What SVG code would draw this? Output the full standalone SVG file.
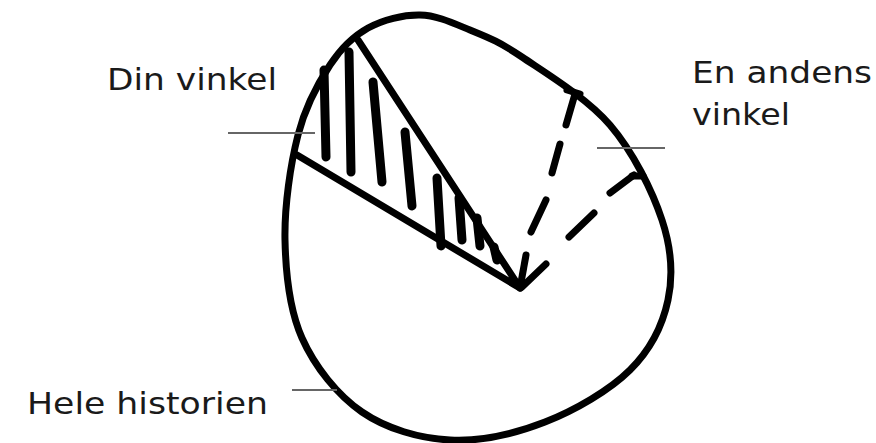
<svg xmlns="http://www.w3.org/2000/svg" width="876" height="443" viewBox="0 0 876 443">
<style>
.lbl{font-family:"DejaVu Sans",Verdana,sans-serif;font-size:31px;fill:#1a1a1a}
.lead{stroke:#666;stroke-width:2;fill:none}
.ink{stroke:#000;fill:none;stroke-linecap:round;stroke-linejoin:round}
</style>
<rect width="876" height="443" fill="#fff"/>
<g id="circle">
<path class="ink" stroke-width="7" d="M420,15 C437,15.3 453,23 470,30 C487,37 498.7,41.2 522,57 C545.3,72.8 586.7,97.8 610,125 C633.3,152.2 652.3,190.8 662,220 C671.7,249.2 673.3,275 668,300 C662.7,325 650.5,349.7 630,370 C609.5,390.3 575,410.3 545,422 C515,433.7 480.5,441.7 450,440 C419.5,438.3 386.7,429 362,412 C337.3,395 314.8,366.7 302,338 C289.2,309.3 285.7,273.8 285,240 C284.3,206.2 290.5,164.2 298,135 C305.5,105.8 318.3,82.8 330,65 C341.7,47.2 353,36.3 368,28 C383,19.7 403,14.7 420,15 Z"/>
</g>
<g id="wedge">
<path class="ink" stroke-width="7" d="M358,40 L520,288 M297,155 L520,288"/>
<g class="ink" stroke-width="9">
<path d="M324,70 L326,157"/>
<path d="M349,52 L351,172"/>
<path d="M373,82 L382,182"/>
<path d="M405,132 L412,206"/>
<path d="M437,178 L441,246"/>
<path d="M459,198 L462,240"/>
<path d="M477,218 L480,246"/>
<path d="M494,247 L497,260"/>
</g>
</g>
<g id="dashes" class="ink" stroke-width="7">
<path d="M520,288 L526,255"/>
<path d="M531,232 L546,200"/>
<path d="M552,173 L560,144"/>
<path d="M566,125 L575,94"/>
<path d="M567,90 L580,94"/>
<path d="M522,287 L546,264"/>
<path d="M569,237 L594,213"/>
<path d="M610,193 L634,175"/>
<path d="M632,176 L643,176"/>
</g>
<g id="labels">
<path class="lead" d="M228,133 L315,133"/>
<text class="lbl" x="107" y="90" textLength="170" lengthAdjust="spacingAndGlyphs">Din vinkel</text>
<path class="lead" d="M597,148 L665,148"/>
<text class="lbl" x="692" y="83" textLength="180" lengthAdjust="spacingAndGlyphs">En andens</text>
<text class="lbl" x="692" y="125" textLength="98" lengthAdjust="spacingAndGlyphs">vinkel</text>
<path class="lead" d="M292,390 L337,390"/>
<text class="lbl" x="27" y="414" textLength="241" lengthAdjust="spacingAndGlyphs">Hele historien</text>
</g>
</svg>
